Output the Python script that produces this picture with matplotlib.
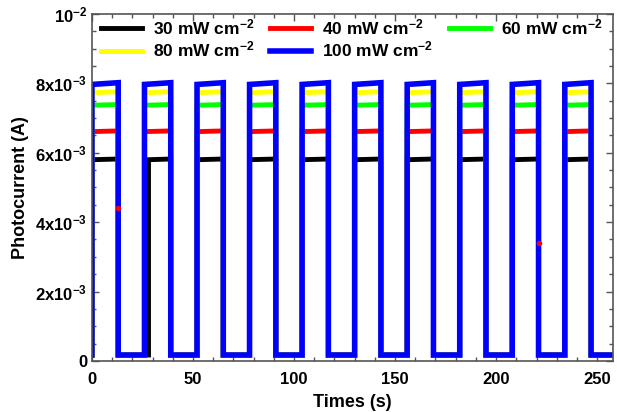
import matplotlib
matplotlib.use('Agg')
from matplotlib import pyplot as plt
from matplotlib.ticker import FixedLocator, MultipleLocator
import numpy as np

plt.rcParams['font.family'] = ['Liberation Sans', 'DejaVu Sans']
plt.rcParams['font.weight'] = 'bold'
plt.rcParams['mathtext.fontset'] = 'custom'
plt.rcParams['mathtext.rm'] = 'Liberation Sans:bold'
plt.rcParams['mathtext.bf'] = 'Liberation Sans:bold'
plt.rcParams['mathtext.default'] = 'rm'

# light on / off times (s)
on_times = [0, 26, 52, 78, 104, 130, 156, 182, 208, 234]
off_times = [13, 39, 65, 91, 117, 143, 169, 195, 221, 247]
t_end = 258

labels = ['30 mW cm$^{-2}$', '40 mW cm$^{-2}$', '60 mW cm$^{-2}$',
          '80 mW cm$^{-2}$', '100 mW cm$^{-2}$']
colors = ['#000000', '#ff0000', '#00ff00', '#ffff00', '#0000ff']
# photocurrent at start / end of each light-on period (A)
on_start = [5.80e-3, 6.61e-3, 7.37e-3, 7.73e-3, 7.97e-3]
on_end = [5.82e-3, 6.63e-3, 7.39e-3, 7.76e-3, 8.02e-3]
dark = [0.17e-3, 0.17e-3, 0.17e-3, 0.17e-3, 0.17e-3]
# black curve switched on late in the second cycle
late_on = {0: {1: 28}}

# odd transition samples of the 40 mW curve
red_pts_t = [12.8, 221]
red_pts_i = [4.4e-3, 3.4e-3]

fig = plt.figure(figsize=(6.17, 4.12), dpi=100)
ax = fig.add_axes([0.149, 0.124, 0.845, 0.842])

for i in range(len(labels)):
    t = []
    y = []
    for k in range(len(on_times)):
        t0 = late_on.get(i, {}).get(k, on_times[k])
        t += [t0, t0, off_times[k], off_times[k]]
        y += [dark[i], on_start[i], on_end[i], dark[i]]
    t.append(t_end)
    y.append(dark[i])
    lw = 4.0 if i == 4 else 3.5
    ax.plot(t, y, color=colors[i], linewidth=lw, label=labels[i],
            solid_joinstyle='miter')

ax.plot(red_pts_t, red_pts_i, 'o', color='#ff0000', markersize=3, zorder=5)

ax.set_xlim(0, t_end)
ax.set_ylim(0, 0.01)
ax.xaxis.set_major_locator(MultipleLocator(50))
ax.xaxis.set_minor_locator(MultipleLocator(10))
ax.yaxis.set_major_locator(FixedLocator([0, 0.002, 0.004, 0.006, 0.008, 0.01]))
ax.set_yticklabels(['0', '2x10$^{-3}$', '4x10$^{-3}$', '6x10$^{-3}$',
                    '8x10$^{-3}$', '10$^{-2}$'])
ax.yaxis.set_minor_locator(MultipleLocator(0.0005))
ax.tick_params(which='both', direction='in', top=True, right=True,
               labelsize=12, color='#555555', width=1)
ax.tick_params(which='major', length=5)
ax.tick_params(which='minor', length=3)
ax.tick_params(axis='x', pad=8)
for lbl in ax.get_xticklabels() + ax.get_yticklabels():
    lbl.set_fontweight('bold')
for s in ax.spines.values():
    s.set_color('#555555')
    s.set_linewidth(1.2)

ax.set_xlabel('Times (s)', fontsize=13, fontweight='bold', labelpad=5)
ax.set_ylabel('Photocurrent (A)', fontsize=13, fontweight='bold', labelpad=4)

h, l = ax.get_legend_handles_labels()
order = [0, 3, 1, 4, 2]
ax.legend([h[j] for j in order], [l[j] for j in order], ncol=3,
          loc='upper left', bbox_to_anchor=(0.0, 1.015), frameon=False,
          prop={'size': 12.5, 'weight': 'bold'}, handlelength=2.4,
          columnspacing=0.9, handletextpad=0.6, borderaxespad=0.1,
          labelspacing=0.15)

plt.savefig('out.png', dpi=100)
